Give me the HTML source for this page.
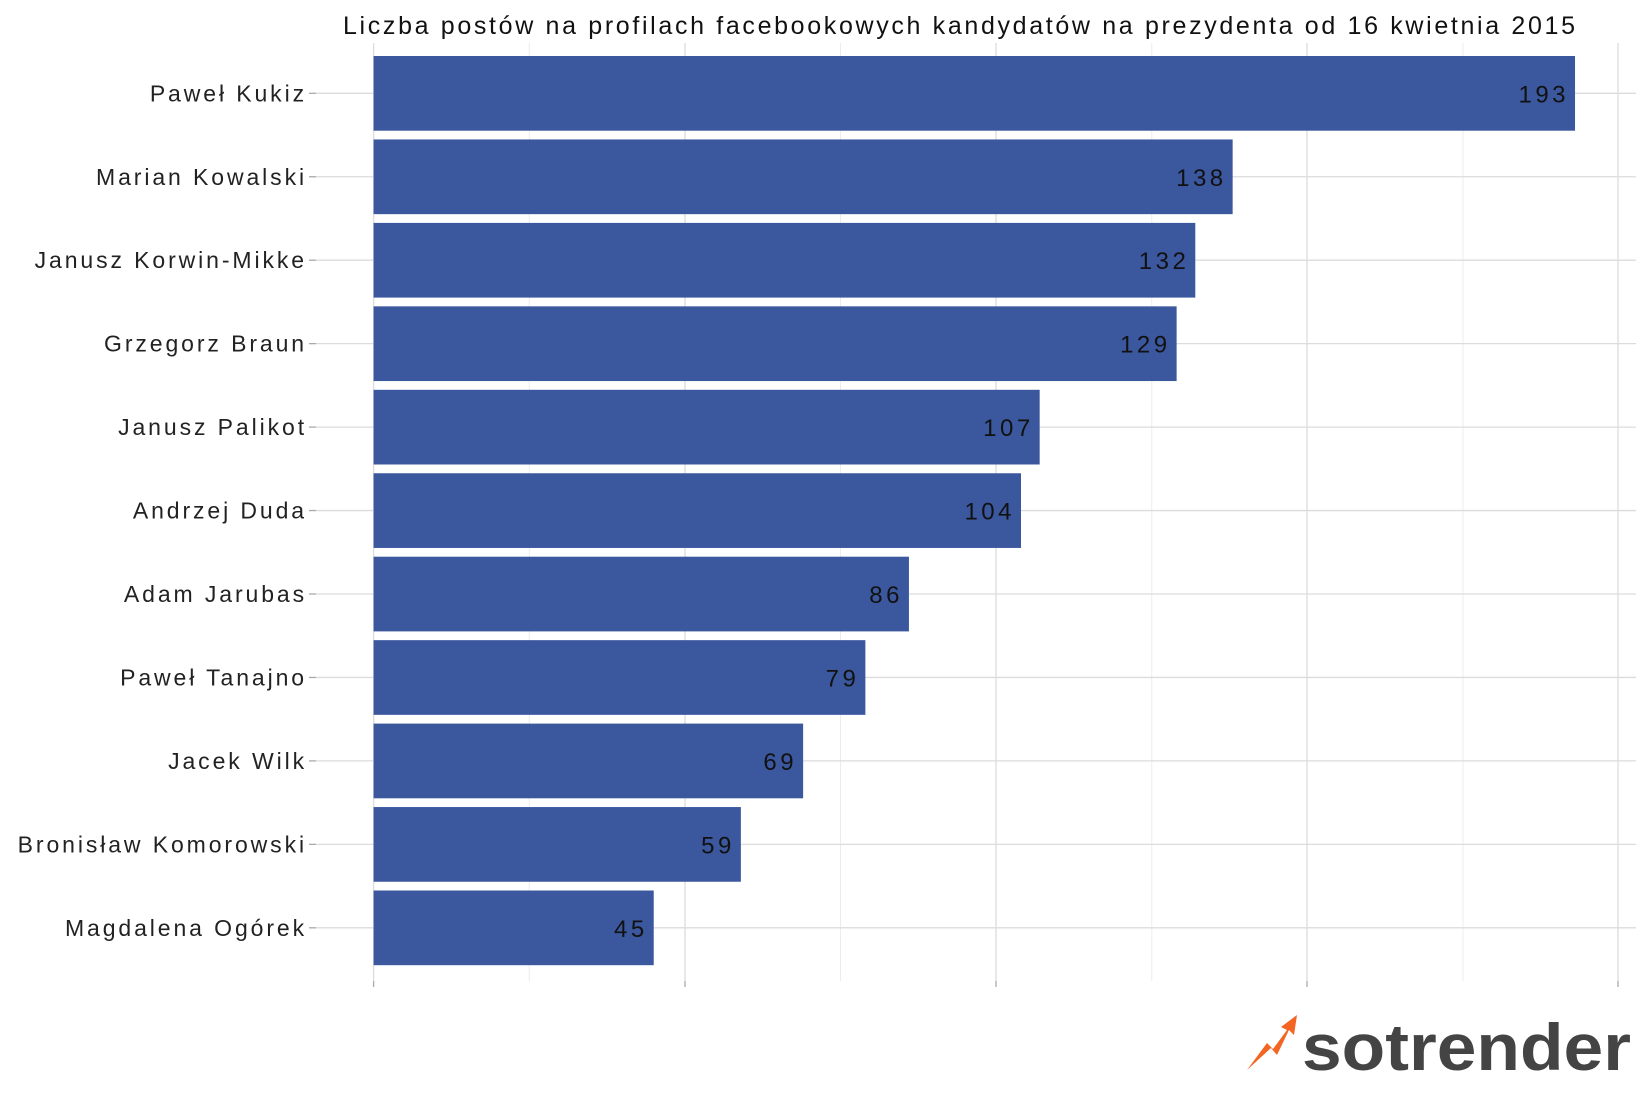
<!DOCTYPE html>
<html><head><meta charset="utf-8"><style>
html,body{margin:0;padding:0;background:#fff;width:1650px;height:1100px;overflow:hidden}
svg{display:block}
text{font-family:"Liberation Sans","DejaVu Sans",sans-serif}
</style></head><body>
<svg width="1650" height="1100" viewBox="0 0 1650 1100" xmlns="http://www.w3.org/2000/svg">
<g stroke="#ececec" stroke-width="1">
<line x1="529.3" y1="43" x2="529.3" y2="981"/>
<line x1="840.5" y1="43" x2="840.5" y2="981"/>
<line x1="1151.8" y1="43" x2="1151.8" y2="981"/>
<line x1="1463" y1="43" x2="1463" y2="981"/>
</g>
<g stroke="#dcdcdc" stroke-width="1.3">
<line x1="373.6" y1="43" x2="373.6" y2="981"/>
<line x1="685" y1="43" x2="685" y2="981"/>
<line x1="996" y1="43" x2="996" y2="981"/>
<line x1="1307" y1="43" x2="1307" y2="981"/>
<line x1="1618" y1="43" x2="1618" y2="981"/>
</g>
<g stroke="#dcdcdc" stroke-width="1.3" id="hg"></g>
<g stroke="#aaa" stroke-width="1.3">
<line x1="373.6" y1="981" x2="373.6" y2="987"/>
<line x1="685" y1="981" x2="685" y2="987"/>
<line x1="996" y1="981" x2="996" y2="987"/>
<line x1="1307" y1="981" x2="1307" y2="987"/>
<line x1="1618" y1="981" x2="1618" y2="987"/>
</g>
<text x="343" y="34" font-size="25" fill="#111" textLength="1232" lengthAdjust="spacing">Liczba postów na profilach facebookowych kandydatów na prezydenta od  16 kwietnia 2015</text>
<g id="bars"></g>
<g transform="translate(1247,1015)">
<polygon points="0,55 20,28 26,34 40,15 34,12 50,0 47,20 42,15 30,40 24,33" fill="#f26522"/>
<text x="55" y="55" font-size="66" font-weight="bold" fill="#444" textLength="329" lengthAdjust="spacingAndGlyphs">sotrender</text>
</g>
</svg>
<script>
var d=[["Paweł Kukiz",193],["Marian Kowalski",138],["Janusz Korwin-Mikke",132],["Grzegorz Braun",129],["Janusz Palikot",107],["Andrzej Duda",104],["Adam Jarubas",86],["Paweł Tanajno",79],["Jacek Wilk",69],["Bronisław Komorowski",59],["Magdalena Ogórek",45]];
var ns="http://www.w3.org/2000/svg",b=document.getElementById("bars"),h=document.getElementById("hg");
function el(t,a,p,tx){var e=document.createElementNS(ns,t);for(var k in a)e.setAttribute(k,a[k]);if(tx)e.textContent=tx;p.appendChild(e);return e;}
d.forEach(function(r,i){var top=56+i*83.45,c=top+37.3,w=r[1]*6.225;
el("line",{x1:316,y1:c,x2:1636,y2:c},h);
el("line",{x1:309,y1:c,x2:316,y2:c,stroke:"#aaa","stroke-width":1.3},b);
el("rect",{x:373.6,y:top,width:w,height:74.7,fill:"#3b589f"},b);
el("text",{x:373.6+w-6,y:c+9,"font-size":24,"text-anchor":"end",fill:"#111","letter-spacing":"3.5"},b,String(r[1]));
el("text",{x:307,y:c+8,"font-size":23,"text-anchor":"end",fill:"#222","letter-spacing":"2.9"},b,r[0]);
});
</script>
</body></html>
